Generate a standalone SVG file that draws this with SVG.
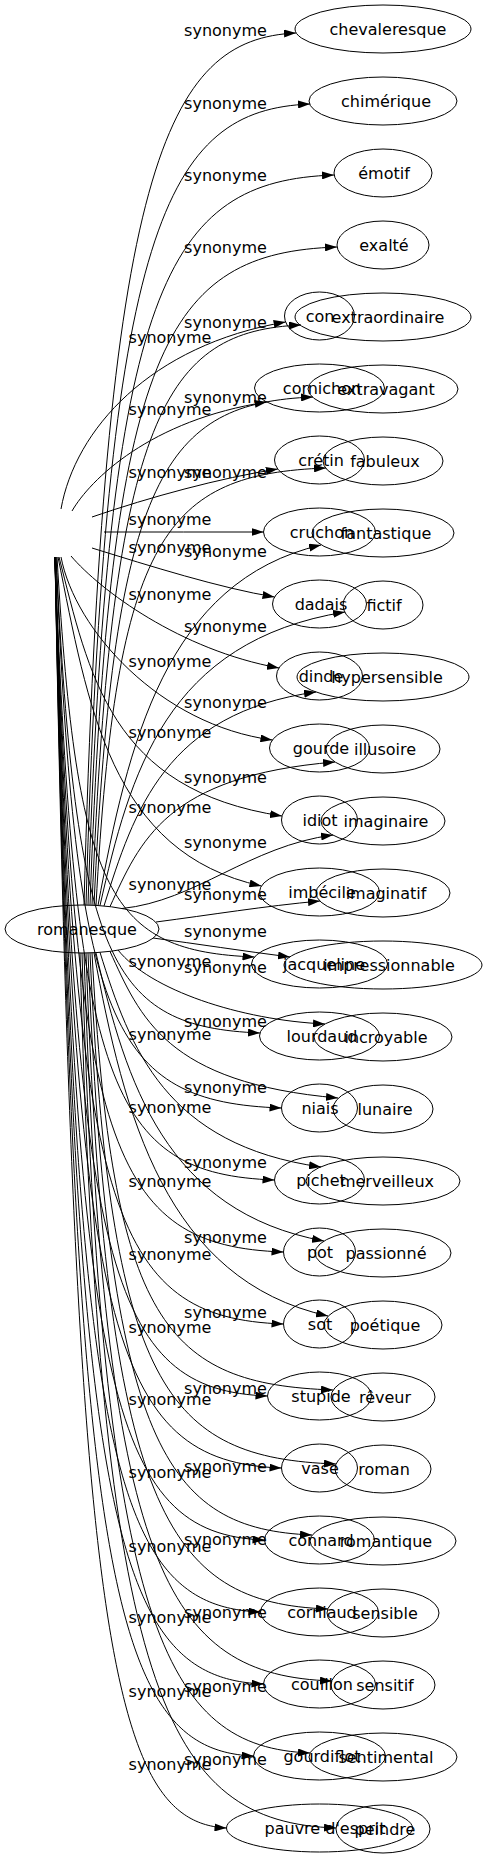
<svg xmlns="http://www.w3.org/2000/svg" width="487" height="1859" viewBox="0 0 487 1859">
<defs>
<marker id="arr" markerWidth="12" markerHeight="8" refX="12" refY="4" orient="auto" markerUnits="userSpaceOnUse"><path d="M0,0 L12,4 L0,8 z" fill="#000"/></marker>
<style>
.node ellipse{fill:none;stroke:#000;stroke-width:1}
text{font-family:"DejaVu Sans","Liberation Sans",sans-serif;font-size:16px;fill:#000}
.node text{text-anchor:middle}
.edge path{fill:none;stroke:#000;stroke-width:1;marker-end:url(#arr)}
.l1{text-anchor:middle}
</style>
</defs>
<rect width="487" height="1859" fill="#fff"/>
<g id="edges">
<g class="edge"><path d="M84,905 C104,164 166,39 296,33"/><text class="l1" x="225.5" y="36">synonyme</text></g>
<g class="edge"><path d="M86,905 C106,224 166,110 310,104"/><text class="l1" x="225.5" y="109">synonyme</text></g>
<g class="edge"><path d="M88,905 C108,285 166,181 334,175"/><text class="l1" x="225.5" y="181">synonyme</text></g>
<g class="edge"><path d="M90,905 C110,346 166,253 337,247"/><text class="l1" x="225.5" y="253">synonyme</text></g>
<g class="edge"><path d="M92,905 C112,412 166,331 301,325"/><text class="l1" x="225.5" y="328">synonyme</text></g>
<g class="edge"><path d="M94,905 C114,473 166,403 313,397"/><text class="l1" x="225.5" y="403">synonyme</text></g>
<g class="edge"><path d="M96,905.5 C116,534 166,474 326,468"/><text class="l1" x="225.5" y="478">synonyme</text></g>
<g class="edge"><path d="M98,905.5 C128,743 166,581 321,545"/><text class="l1" x="225.5" y="557">synonyme</text></g>
<g class="edge"><path d="M100,905.5 C130,773 166,641 345,612"/><text class="l1" x="225.5" y="632">synonyme</text></g>
<g class="edge"><path d="M104,906 C134,810 166,713 316,692"/><text class="l1" x="225.5" y="708">synonyme</text></g>
<g class="edge"><path d="M110,906.6 C140,841 166,776 335,762"/><text class="l1" x="225.5" y="783">synonyme</text></g>
<g class="edge"><path d="M122,908.5 C196,901 249,846 333,835"/><text class="l1" x="225.5" y="848">synonyme</text></g>
<g class="edge"><path d="M156,922 C210,915 265,906 320,901"/><text class="l1" x="225.5" y="900">synonyme</text></g>
<g class="edge"><path d="M153,938 C198,944 243,951 290,957"/><text class="l1" x="225.5" y="937">synonyme</text></g>
<g class="edge"><path d="M118,950 C150,990 240,1020 325,1024"/><text class="l1" x="225.5" y="973">synonyme</text></g>
<g class="edge"><path d="M110,951.4 C140,1017 166,1083 338,1098"/><text class="l1" x="225.5" y="1027">synonyme</text></g>
<g class="edge"><path d="M100,952.3 C130,1049 166,1145 321,1167"/><text class="l1" x="225.5" y="1093">synonyme</text></g>
<g class="edge"><path d="M96,953 C126,1083 166,1212 324,1241"/><text class="l1" x="225.5" y="1168">synonyme</text></g>
<g class="edge"><path d="M94,953 C124,1116 166,1280 328,1316"/><text class="l1" x="225.5" y="1243">synonyme</text></g>
<g class="edge"><path d="M92,953 C112,1324 166,1384 333,1390"/><text class="l1" x="225.5" y="1318">synonyme</text></g>
<g class="edge"><path d="M90,953 C110,1387 166,1458 336,1464"/><text class="l1" x="225.5" y="1394">synonyme</text></g>
<g class="edge"><path d="M88,953 C108,1448 166,1529 312,1535"/><text class="l1" x="225.5" y="1472">synonyme</text></g>
<g class="edge"><path d="M86,953 C106,1511 166,1603 328,1609"/><text class="l1" x="225.5" y="1545">synonyme</text></g>
<g class="edge"><path d="M84,953 C104,1572 166,1675 332,1681"/><text class="l1" x="225.5" y="1618">synonyme</text></g>
<g class="edge"><path d="M82,953 C102,1633 166,1747 310,1753"/><text class="l1" x="225.5" y="1692">synonyme</text></g>
<g class="edge"><path d="M80,953 C100,1697 166,1822 336,1828"/><text class="l1" x="225.5" y="1765">synonyme</text></g>
<g class="edge"><path d="M61,509 C75,430 150,345 285.6,322"/><text class="l1" x="170" y="343">synonyme</text></g>
<g class="edge"><path d="M72,511 C90,480 150,420 266.7,402"/><text class="l1" x="170" y="415">synonyme</text></g>
<g class="edge"><path d="M92,517 C150,497 220,478 277.8,469"/><text class="l1" x="170" y="478">synonyme</text></g>
<g class="edge"><path d="M104,532 C157,532 210,532 263.5,532"/><text class="l1" x="170" y="525">synonyme</text></g>
<g class="edge"><path d="M92,548 C150,566 220,588 274.5,597"/><text class="l1" x="170" y="553">synonyme</text></g>
<g class="edge"><path d="M71,556 C100,590 180,650 279,668"/><text class="l1" x="170" y="600">synonyme</text></g>
<g class="edge"><path d="M61,557 C75,630 160,725 272.4,740"/><text class="l1" x="170" y="667">synonyme</text></g>
<g class="edge"><path d="M59,557 C89,674 110,790 282,816"/><text class="l1" x="170" y="738">synonyme</text></g>
<g class="edge"><path d="M58,557 C88,705 110,853 261.4,886"/><text class="l1" x="170" y="813">synonyme</text></g>
<g class="edge"><path d="M57,557 C77,897 110,951 254.5,957"/><text class="l1" x="170" y="890">synonyme</text></g>
<g class="edge"><path d="M56,557 C76,962 110,1027 260,1033"/><text class="l1" x="170" y="967">synonyme</text></g>
<g class="edge"><path d="M56,557 C76,1025 110,1102 281.5,1108"/><text class="l1" x="170" y="1040">synonyme</text></g>
<g class="edge"><path d="M55,557 C75,1087 110,1174 274.5,1180"/><text class="l1" x="170" y="1113">synonyme</text></g>
<g class="edge"><path d="M55,557 C75,1148 110,1246 283.5,1252"/><text class="l1" x="170" y="1187">synonyme</text></g>
<g class="edge"><path d="M55,557 C75,1209 110,1318 283.5,1324"/><text class="l1" x="170" y="1260">synonyme</text></g>
<g class="edge"><path d="M55,557 C75,1270 110,1390 267.5,1396"/><text class="l1" x="170" y="1333">synonyme</text></g>
<g class="edge"><path d="M55,557 C75,1331 110,1462 281.5,1468"/><text class="l1" x="170" y="1405">synonyme</text></g>
<g class="edge"><path d="M55,557 C75,1393 110,1534 264.5,1540"/><text class="l1" x="170" y="1478">synonyme</text></g>
<g class="edge"><path d="M55,557 C75,1454 110,1606 260.5,1612"/><text class="l1" x="170" y="1552">synonyme</text></g>
<g class="edge"><path d="M55,557 C75,1515 110,1678 263.5,1684"/><text class="l1" x="170" y="1623">synonyme</text></g>
<g class="edge"><path d="M55,557 C75,1576 110,1750 253.5,1756"/><text class="l1" x="170" y="1697">synonyme</text></g>
<g class="edge"><path d="M55,557 C75,1637 110,1822 226.5,1828"/><text class="l1" x="170" y="1770">synonyme</text></g>
</g>
<g id="n_romanesque" class="node"><ellipse cx="82" cy="929" rx="77" ry="24"/><text x="87" y="934.5">romanesque</text></g>
<g id="n_chevaleresque" class="node"><ellipse cx="383" cy="29" rx="88" ry="24"/><text x="388" y="34.5">chevaleresque</text></g>
<g id="n_chimerique" class="node"><ellipse cx="383" cy="101" rx="74" ry="24"/><text x="386" y="106.5">chimérique</text></g>
<g id="n_emotif" class="node"><ellipse cx="383" cy="173" rx="49" ry="24"/><text x="384" y="178.5">émotif</text></g>
<g id="n_exalte" class="node"><ellipse cx="383" cy="245" rx="46" ry="24"/><text x="384" y="250.5">exalté</text></g>
<g id="n_extraordinaire" class="node"><ellipse cx="383" cy="317" rx="88" ry="24"/><text x="388" y="322.5">extraordinaire</text></g>
<g id="n_extravagant" class="node"><ellipse cx="383" cy="389" rx="75" ry="24"/><text x="386" y="394.5">extravagant</text></g>
<g id="n_fabuleux" class="node"><ellipse cx="383" cy="461" rx="60" ry="24"/><text x="385" y="466.5">fabuleux</text></g>
<g id="n_fantastique" class="node"><ellipse cx="383" cy="533" rx="71" ry="24"/><text x="386" y="538.5">fantastique</text></g>
<g id="n_fictif" class="node"><ellipse cx="383" cy="605" rx="40" ry="24"/><text x="384" y="610.5">fictif</text></g>
<g id="n_hypersensible" class="node"><ellipse cx="383" cy="677" rx="86" ry="24"/><text x="387" y="682.5">hypersensible</text></g>
<g id="n_illusoire" class="node"><ellipse cx="383" cy="749" rx="57" ry="24"/><text x="385" y="754.5">illusoire</text></g>
<g id="n_imaginaire" class="node"><ellipse cx="383" cy="821" rx="62" ry="24"/><text x="386" y="826.5">imaginaire</text></g>
<g id="n_imaginatif" class="node"><ellipse cx="383" cy="893" rx="67" ry="24"/><text x="386" y="898.5">imaginatif</text></g>
<g id="n_impressionnable" class="node"><ellipse cx="383" cy="965" rx="99" ry="24"/><text x="389" y="970.5">impressionnable</text></g>
<g id="n_incroyable" class="node"><ellipse cx="383" cy="1037" rx="69" ry="24"/><text x="386" y="1042.5">incroyable</text></g>
<g id="n_lunaire" class="node"><ellipse cx="383" cy="1109" rx="50" ry="24"/><text x="385" y="1114.5">lunaire</text></g>
<g id="n_merveilleux" class="node"><ellipse cx="383" cy="1181" rx="77" ry="24"/><text x="387" y="1186.5">merveilleux</text></g>
<g id="n_passionne" class="node"><ellipse cx="383" cy="1253" rx="68" ry="24"/><text x="386" y="1258.5">passionné</text></g>
<g id="n_poetique" class="node"><ellipse cx="383" cy="1325" rx="59" ry="24"/><text x="385" y="1330.5">poétique</text></g>
<g id="n_reveur" class="node"><ellipse cx="383" cy="1397" rx="52" ry="24"/><text x="385" y="1402.5">rêveur</text></g>
<g id="n_roman" class="node"><ellipse cx="383" cy="1469" rx="48" ry="24"/><text x="384" y="1474.5">roman</text></g>
<g id="n_romantique" class="node"><ellipse cx="383" cy="1541" rx="73" ry="24"/><text x="386" y="1546.5">romantique</text></g>
<g id="n_sensible" class="node"><ellipse cx="383" cy="1613" rx="56" ry="24"/><text x="385" y="1618.5">sensible</text></g>
<g id="n_sensitif" class="node"><ellipse cx="383" cy="1685" rx="52" ry="24"/><text x="385" y="1690.5">sensitif</text></g>
<g id="n_sentimental" class="node"><ellipse cx="383" cy="1757" rx="74" ry="24"/><text x="386" y="1762.5">sentimental</text></g>
<g id="n_peindre" class="node"><ellipse cx="383" cy="1829" rx="47" ry="24"/><text x="385" y="1834.5">peindre</text></g>
<g id="n_con" class="node"><ellipse cx="319.5" cy="316" rx="35" ry="24"/><text x="320" y="321.5">con</text></g>
<g id="n_cornichon" class="node"><ellipse cx="319.5" cy="388" rx="65" ry="24"/><text x="322" y="393.5">cornichon</text></g>
<g id="n_cretin" class="node"><ellipse cx="319.5" cy="460" rx="45" ry="24"/><text x="321" y="465.5">crétin</text></g>
<g id="n_cruchon" class="node"><ellipse cx="319.5" cy="532" rx="56" ry="24"/><text x="322" y="537.5">cruchon</text></g>
<g id="n_dadais" class="node"><ellipse cx="319.5" cy="604" rx="47" ry="24"/><text x="321" y="609.5">dadais</text></g>
<g id="n_dinde" class="node"><ellipse cx="319.5" cy="676" rx="43" ry="24"/><text x="321" y="681.5">dinde</text></g>
<g id="n_gourde" class="node"><ellipse cx="319.5" cy="748" rx="50" ry="24"/><text x="321" y="753.5">gourde</text></g>
<g id="n_idiot" class="node"><ellipse cx="319.5" cy="820" rx="38" ry="24"/><text x="320" y="825.5">idiot</text></g>
<g id="n_imbecile" class="node"><ellipse cx="319.5" cy="892" rx="60" ry="24"/><text x="322" y="897.5">imbécile</text></g>
<g id="n_jacqueline" class="node"><ellipse cx="319.5" cy="964" rx="68" ry="24"/><text x="324" y="969.5">jacqueline</text></g>
<g id="n_lourdaud" class="node"><ellipse cx="319.5" cy="1036" rx="60" ry="24"/><text x="322" y="1041.5">lourdaud</text></g>
<g id="n_niais" class="node"><ellipse cx="319.5" cy="1108" rx="38" ry="24"/><text x="320" y="1113.5">niais</text></g>
<g id="n_pichet" class="node"><ellipse cx="319.5" cy="1180" rx="45" ry="24"/><text x="321" y="1185.5">pichet</text></g>
<g id="n_pot" class="node"><ellipse cx="319.5" cy="1252" rx="36" ry="24"/><text x="320" y="1257.5">pot</text></g>
<g id="n_sot" class="node"><ellipse cx="319.5" cy="1324" rx="36" ry="24"/><text x="320" y="1329.5">sot</text></g>
<g id="n_stupide" class="node"><ellipse cx="319.5" cy="1396" rx="52" ry="24"/><text x="321" y="1401.5">stupide</text></g>
<g id="n_vase" class="node"><ellipse cx="319.5" cy="1468" rx="38" ry="24"/><text x="320" y="1473.5">vase</text></g>
<g id="n_connard" class="node"><ellipse cx="319.5" cy="1540" rx="55" ry="24"/><text x="321" y="1545.5">connard</text></g>
<g id="n_corniaud" class="node"><ellipse cx="319.5" cy="1612" rx="59" ry="24"/><text x="322" y="1617.5">corniaud</text></g>
<g id="n_couillon" class="node"><ellipse cx="319.5" cy="1684" rx="56" ry="24"/><text x="322" y="1689.5">couillon</text></g>
<g id="n_gourdiflot" class="node"><ellipse cx="319.5" cy="1756" rx="66" ry="24"/><text x="322" y="1761.5">gourdiflot</text></g>
<g id="n_pauvre_d_esprit" class="node"><ellipse cx="319.5" cy="1828" rx="93" ry="24"/><text x="325" y="1833.5">pauvre d'esprit</text></g>
</svg>
